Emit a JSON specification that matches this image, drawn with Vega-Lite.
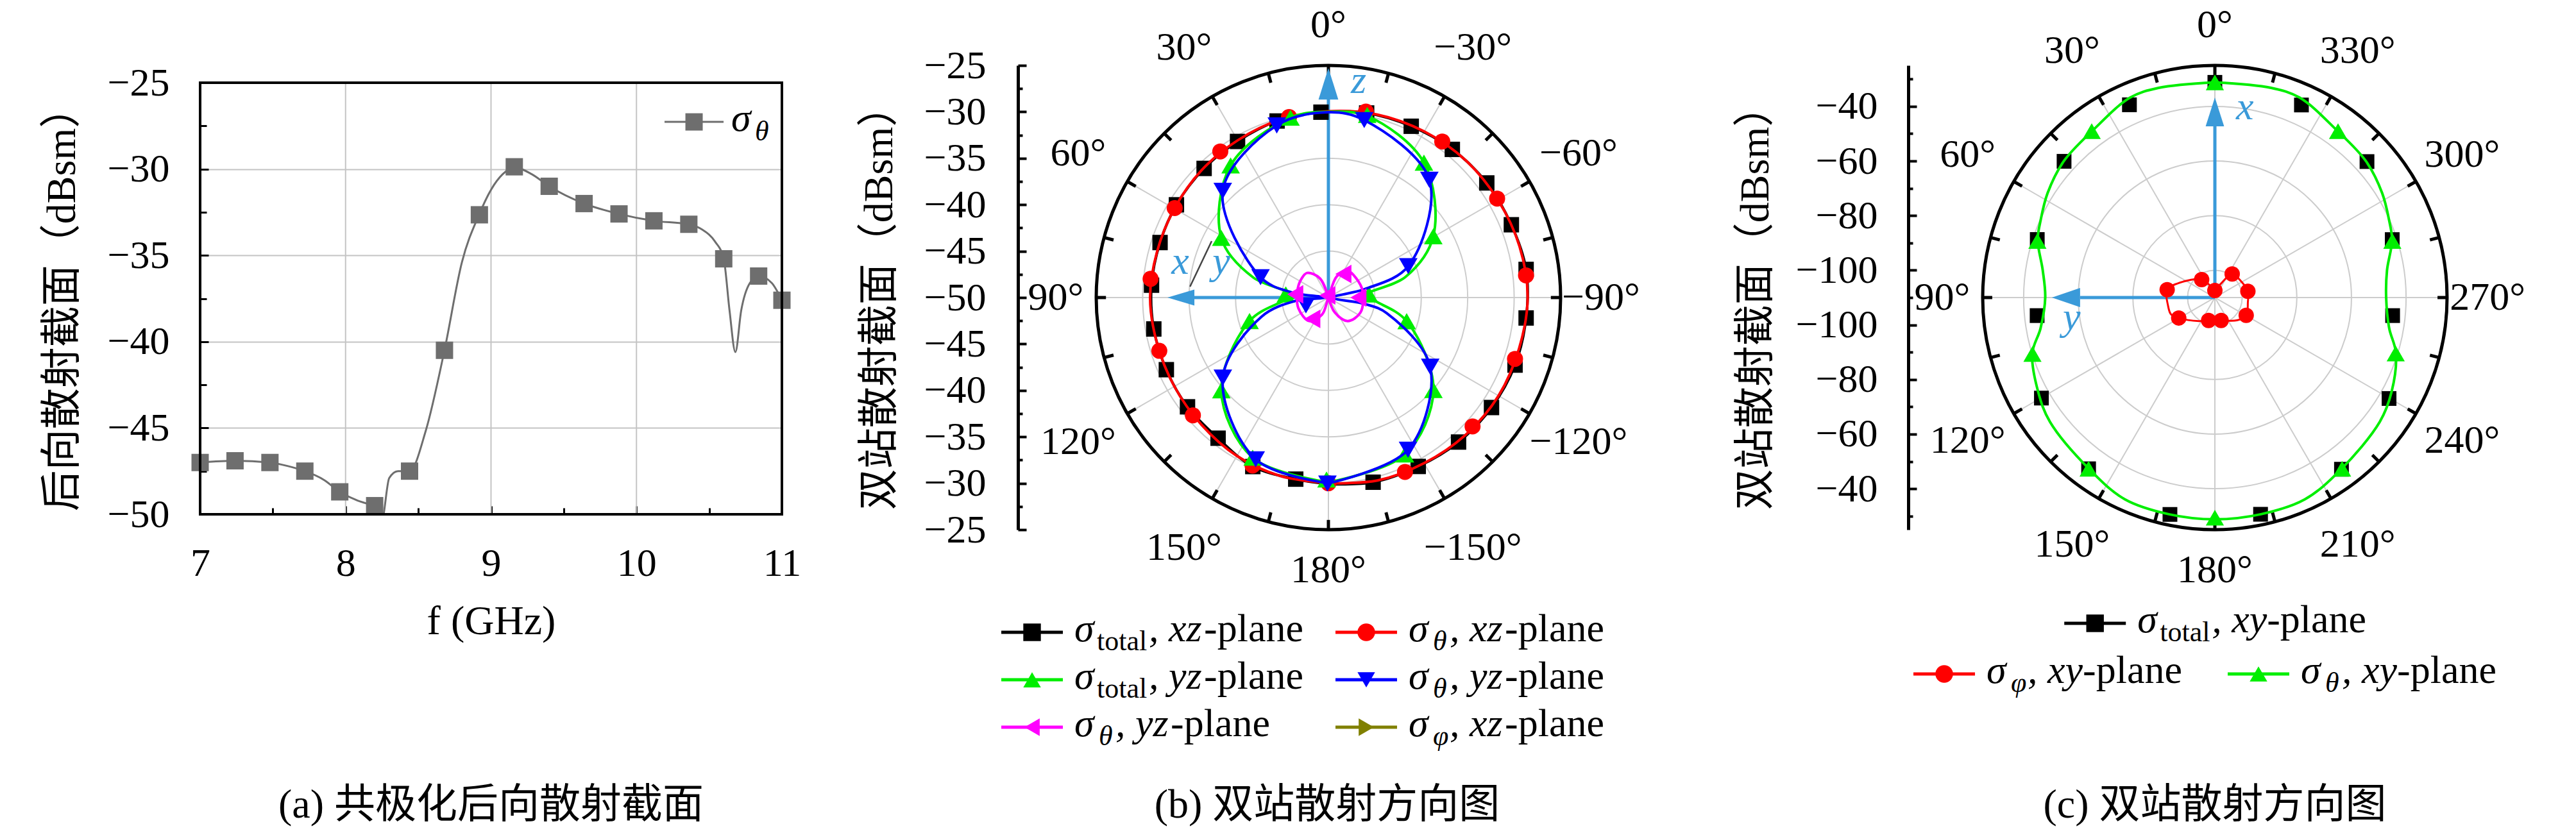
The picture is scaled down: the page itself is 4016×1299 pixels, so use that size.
{
  "$schema": "https://vega.github.io/schema/vega-lite/v6.json",
  "background": "white",
  "padding": {"left": 65, "top": 7, "right": 5, "bottom": 5},
  "config": {
    "font": "Liberation Serif, Noto Sans CJK SC",
    "view": {"stroke": null},
    "axis": {
      "labelFont": "Liberation Serif, Noto Sans CJK SC",
      "titleFont": "Liberation Serif, Noto Sans CJK SC",
      "labelFontSize": 62, "titleFontSize": 64, "titleFontWeight": "normal",
      "labelColor": "#000", "titleColor": "#000", "tickColor": "#000", "domainColor": "#000",
      "labelOverlap": false, "labelFlush": false, "grid": false
    },
    "title": {"font": "Liberation Serif, Noto Sans CJK SC", "fontSize": 64, "fontWeight": "normal", "color": "#000"},
    "text": {"font": "Liberation Serif, Noto Sans CJK SC", "fontSize": 62, "color": "#000"}
  },
  "datasets": {
    "a_pts": [
      {"f": 7, "s": -47.0}, {"f": 7.24, "s": -46.9}, {"f": 7.48, "s": -47.0}, {"f": 7.72, "s": -47.5},
      {"f": 7.96, "s": -48.7}, {"f": 8.2, "s": -49.5}, {"f": 8.44, "s": -47.5}, {"f": 8.68, "s": -40.5},
      {"f": 8.92, "s": -32.65}, {"f": 9.16, "s": -29.87}, {"f": 9.4, "s": -31.0}, {"f": 9.64, "s": -32.0},
      {"f": 9.88, "s": -32.6}, {"f": 10.12, "s": -33.0}, {"f": 10.36, "s": -33.2}, {"f": 10.6, "s": -35.2},
      {"f": 10.84, "s": -36.2}, {"f": 11, "s": -37.6}
    ],
    "a_curve": [
      {"f": 7.0, "s": -47.0}, {"f": 7.24, "s": -46.9}, {"f": 7.48, "s": -47.0}, {"f": 7.6, "s": -47.2},
      {"f": 7.72, "s": -47.5}, {"f": 7.85, "s": -48.0}, {"f": 7.96, "s": -48.7}, {"f": 8.08, "s": -49.2},
      {"f": 8.2, "s": -49.6}, {"f": 8.25, "s": -50.3}, {"f": 8.3, "s": -47.9}, {"f": 8.36, "s": -47.5},
      {"f": 8.44, "s": -47.5}, {"f": 8.55, "s": -45.2}, {"f": 8.68, "s": -40.5}, {"f": 8.8, "s": -35.4},
      {"f": 8.92, "s": -32.6}, {"f": 9.0, "s": -31.2}, {"f": 9.08, "s": -30.3}, {"f": 9.16, "s": -29.9},
      {"f": 9.28, "s": -30.3}, {"f": 9.4, "s": -31.0}, {"f": 9.64, "s": -32.0}, {"f": 9.88, "s": -32.6},
      {"f": 10.12, "s": -33.0}, {"f": 10.36, "s": -33.2}, {"f": 10.45, "s": -33.5}, {"f": 10.54, "s": -34.2},
      {"f": 10.6, "s": -35.2}, {"f": 10.64, "s": -38.2}, {"f": 10.68, "s": -40.6}, {"f": 10.72, "s": -38.2},
      {"f": 10.78, "s": -36.6}, {"f": 10.84, "s": -36.2}, {"f": 10.93, "s": -36.6}, {"f": 11.0, "s": -37.6}
    ],
    "b_data": [
      {"sr": "b_tot_xz", "kind": "l", "a": -180, "v": -29.9},
      {"sr": "b_tot_xz", "kind": "l", "a": -166.4, "v": -29.54},
      {"sr": "b_tot_xz", "kind": "l", "a": -152, "v": -29.4},
      {"sr": "b_tot_xz", "kind": "l", "a": -138, "v": -29.06},
      {"sr": "b_tot_xz", "kind": "l", "a": -124, "v": -28.82},
      {"sr": "b_tot_xz", "kind": "l", "a": -109.9, "v": -28.63},
      {"sr": "b_tot_xz", "kind": "l", "a": -95.9, "v": -28.6},
      {"sr": "b_tot_xz", "kind": "l", "a": -81.9, "v": -28.5},
      {"sr": "b_tot_xz", "kind": "l", "a": -68.3, "v": -28.8},
      {"sr": "b_tot_xz", "kind": "l", "a": -54.1, "v": -28.95},
      {"sr": "b_tot_xz", "kind": "l", "a": -39.9, "v": -29.2},
      {"sr": "b_tot_xz", "kind": "l", "a": -25.8, "v": -29.51},
      {"sr": "b_tot_xz", "kind": "l", "a": -11.7, "v": -29.7},
      {"sr": "b_tot_xz", "kind": "l", "a": 2.3, "v": -30.02},
      {"sr": "b_tot_xz", "kind": "l", "a": 16.2, "v": -30.2},
      {"sr": "b_tot_xz", "kind": "l", "a": 30.2, "v": -30.55},
      {"sr": "b_tot_xz", "kind": "l", "a": 43.9, "v": -30.7},
      {"sr": "b_tot_xz", "kind": "l", "a": 58.6, "v": -30.83},
      {"sr": "b_tot_xz", "kind": "l", "a": 71.9, "v": -30.93},
      {"sr": "b_tot_xz", "kind": "l", "a": 86, "v": -30.91},
      {"sr": "b_tot_xz", "kind": "l", "a": 100.2, "v": -30.9},
      {"sr": "b_tot_xz", "kind": "l", "a": 114, "v": -30.9},
      {"sr": "b_tot_xz", "kind": "l", "a": 127.8, "v": -30.8},
      {"sr": "b_tot_xz", "kind": "l", "a": 141.9, "v": -30.75},
      {"sr": "b_tot_xz", "kind": "l", "a": 155.9, "v": -30.06},
      {"sr": "b_tot_xz", "kind": "l", "a": 169.8, "v": -30.13},
      {"sr": "b_tot_xz", "kind": "l", "a": 180, "v": -29.9},
      {"sr": "b_tot_xz", "kind": "m", "a": -166.4, "v": -29.54},
      {"sr": "b_tot_xz", "kind": "m", "a": -152, "v": -29.4},
      {"sr": "b_tot_xz", "kind": "m", "a": -138, "v": -29.06},
      {"sr": "b_tot_xz", "kind": "m", "a": -124, "v": -28.82},
      {"sr": "b_tot_xz", "kind": "m", "a": -109.9, "v": -28.63},
      {"sr": "b_tot_xz", "kind": "m", "a": -95.9, "v": -28.6},
      {"sr": "b_tot_xz", "kind": "m", "a": -81.9, "v": -28.5},
      {"sr": "b_tot_xz", "kind": "m", "a": -68.3, "v": -28.8},
      {"sr": "b_tot_xz", "kind": "m", "a": -54.1, "v": -28.95},
      {"sr": "b_tot_xz", "kind": "m", "a": -39.9, "v": -29.2},
      {"sr": "b_tot_xz", "kind": "m", "a": -25.8, "v": -29.51},
      {"sr": "b_tot_xz", "kind": "m", "a": -11.7, "v": -29.7},
      {"sr": "b_tot_xz", "kind": "m", "a": 2.3, "v": -30.02},
      {"sr": "b_tot_xz", "kind": "m", "a": 16.2, "v": -30.2},
      {"sr": "b_tot_xz", "kind": "m", "a": 30.2, "v": -30.55},
      {"sr": "b_tot_xz", "kind": "m", "a": 43.9, "v": -30.7},
      {"sr": "b_tot_xz", "kind": "m", "a": 58.6, "v": -30.83},
      {"sr": "b_tot_xz", "kind": "m", "a": 71.9, "v": -30.93},
      {"sr": "b_tot_xz", "kind": "m", "a": 86, "v": -30.91},
      {"sr": "b_tot_xz", "kind": "m", "a": 100.2, "v": -30.9},
      {"sr": "b_tot_xz", "kind": "m", "a": 114, "v": -30.9},
      {"sr": "b_tot_xz", "kind": "m", "a": 127.8, "v": -30.8},
      {"sr": "b_tot_xz", "kind": "m", "a": 141.9, "v": -30.75},
      {"sr": "b_tot_xz", "kind": "m", "a": 155.9, "v": -30.06},
      {"sr": "b_tot_xz", "kind": "m", "a": 169.8, "v": -30.13},
      {"sr": "b_th_xz", "kind": "l", "a": -180, "v": -30.0},
      {"sr": "b_th_xz", "kind": "l", "a": -165, "v": -29.6},
      {"sr": "b_th_xz", "kind": "l", "a": -150, "v": -29.4},
      {"sr": "b_th_xz", "kind": "l", "a": -135, "v": -29.1},
      {"sr": "b_th_xz", "kind": "l", "a": -120, "v": -28.85},
      {"sr": "b_th_xz", "kind": "l", "a": -105, "v": -28.75},
      {"sr": "b_th_xz", "kind": "l", "a": -90, "v": -28.55},
      {"sr": "b_th_xz", "kind": "l", "a": -75, "v": -28.7},
      {"sr": "b_th_xz", "kind": "l", "a": -60, "v": -28.94},
      {"sr": "b_th_xz", "kind": "l", "a": -45, "v": -29.1},
      {"sr": "b_th_xz", "kind": "l", "a": -30, "v": -29.35},
      {"sr": "b_th_xz", "kind": "l", "a": -15, "v": -29.6},
      {"sr": "b_th_xz", "kind": "l", "a": 0, "v": -29.94},
      {"sr": "b_th_xz", "kind": "l", "a": 15, "v": -30.15},
      {"sr": "b_th_xz", "kind": "l", "a": 30, "v": -30.45},
      {"sr": "b_th_xz", "kind": "l", "a": 45, "v": -30.65},
      {"sr": "b_th_xz", "kind": "l", "a": 60, "v": -30.85},
      {"sr": "b_th_xz", "kind": "l", "a": 75, "v": -30.9},
      {"sr": "b_th_xz", "kind": "l", "a": 90, "v": -30.8},
      {"sr": "b_th_xz", "kind": "l", "a": 105, "v": -30.9},
      {"sr": "b_th_xz", "kind": "l", "a": 120, "v": -30.85},
      {"sr": "b_th_xz", "kind": "l", "a": 135, "v": -30.65},
      {"sr": "b_th_xz", "kind": "l", "a": 150, "v": -30.3},
      {"sr": "b_th_xz", "kind": "l", "a": 165, "v": -30.1},
      {"sr": "b_th_xz", "kind": "l", "a": 180, "v": -30.0},
      {"sr": "b_th_xz", "kind": "m", "a": -11.4, "v": -29.57},
      {"sr": "b_th_xz", "kind": "m", "a": -36.1, "v": -29.2},
      {"sr": "b_th_xz", "kind": "m", "a": -59.6, "v": -28.94},
      {"sr": "b_th_xz", "kind": "m", "a": -83.6, "v": -28.59},
      {"sr": "b_th_xz", "kind": "m", "a": -108.2, "v": -28.85},
      {"sr": "b_th_xz", "kind": "m", "a": -131.8, "v": -29.18},
      {"sr": "b_th_xz", "kind": "m", "a": -156.3, "v": -29.49},
      {"sr": "b_th_xz", "kind": "m", "a": 180, "v": -30.0},
      {"sr": "b_th_xz", "kind": "m", "a": 155.7, "v": -30.15},
      {"sr": "b_th_xz", "kind": "m", "a": 131, "v": -30.67},
      {"sr": "b_th_xz", "kind": "m", "a": 107.5, "v": -30.91},
      {"sr": "b_th_xz", "kind": "m", "a": 84, "v": -30.75},
      {"sr": "b_th_xz", "kind": "m", "a": 59.8, "v": -30.85},
      {"sr": "b_th_xz", "kind": "m", "a": 36.5, "v": -30.43},
      {"sr": "b_th_xz", "kind": "m", "a": 12.3, "v": -30.1},
      {"sr": "b_tot_yz", "kind": "l", "a": -180, "v": -30.1},
      {"sr": "b_tot_yz", "kind": "l", "a": -154, "v": -31.2},
      {"sr": "b_tot_yz", "kind": "l", "a": -131.4, "v": -34.93},
      {"sr": "b_tot_yz", "kind": "l", "a": -106.8, "v": -41.2},
      {"sr": "b_tot_yz", "kind": "l", "a": -95, "v": -44.8},
      {"sr": "b_tot_yz", "kind": "l", "a": -87, "v": -46.1},
      {"sr": "b_tot_yz", "kind": "l", "a": -75, "v": -41.4},
      {"sr": "b_tot_yz", "kind": "l", "a": -59.7, "v": -36.92},
      {"sr": "b_tot_yz", "kind": "l", "a": -35.3, "v": -32.2},
      {"sr": "b_tot_yz", "kind": "l", "a": -12, "v": -30.0},
      {"sr": "b_tot_yz", "kind": "l", "a": 0, "v": -30.0},
      {"sr": "b_tot_yz", "kind": "l", "a": 11.9, "v": -30.2},
      {"sr": "b_tot_yz", "kind": "l", "a": 36.5, "v": -32.3},
      {"sr": "b_tot_yz", "kind": "l", "a": 60.9, "v": -36.8},
      {"sr": "b_tot_yz", "kind": "l", "a": 75, "v": -41.6},
      {"sr": "b_tot_yz", "kind": "l", "a": 87, "v": -46.4},
      {"sr": "b_tot_yz", "kind": "l", "a": 95, "v": -45.0},
      {"sr": "b_tot_yz", "kind": "l", "a": 106.6, "v": -41.14},
      {"sr": "b_tot_yz", "kind": "l", "a": 130.9, "v": -34.75},
      {"sr": "b_tot_yz", "kind": "l", "a": 154.7, "v": -30.92},
      {"sr": "b_tot_yz", "kind": "l", "a": 180, "v": -30.1},
      {"sr": "b_tot_yz", "kind": "m", "a": 11.9, "v": -30.2},
      {"sr": "b_tot_yz", "kind": "m", "a": -12, "v": -29.9},
      {"sr": "b_tot_yz", "kind": "m", "a": -35.3, "v": -32.2},
      {"sr": "b_tot_yz", "kind": "m", "a": -59.7, "v": -36.92},
      {"sr": "b_tot_yz", "kind": "m", "a": -85.6, "v": -45.62},
      {"sr": "b_tot_yz", "kind": "m", "a": -106.8, "v": -41.2},
      {"sr": "b_tot_yz", "kind": "m", "a": -131.4, "v": -34.93},
      {"sr": "b_tot_yz", "kind": "m", "a": -154, "v": -31.2},
      {"sr": "b_tot_yz", "kind": "m", "a": 179.4, "v": -30.4},
      {"sr": "b_tot_yz", "kind": "m", "a": 154.7, "v": -30.92},
      {"sr": "b_tot_yz", "kind": "m", "a": 130.9, "v": -34.75},
      {"sr": "b_tot_yz", "kind": "m", "a": 106.6, "v": -41.14},
      {"sr": "b_tot_yz", "kind": "m", "a": 85.8, "v": -45.4},
      {"sr": "b_tot_yz", "kind": "m", "a": 60.9, "v": -36.8},
      {"sr": "b_tot_yz", "kind": "m", "a": 36.5, "v": -32.3},
      {"sr": "b_th_yz", "kind": "l", "a": -180, "v": -30.0},
      {"sr": "b_th_yz", "kind": "l", "a": -152.4, "v": -31.5},
      {"sr": "b_th_yz", "kind": "l", "a": -124.2, "v": -36.75},
      {"sr": "b_th_yz", "kind": "l", "a": -105, "v": -43.5},
      {"sr": "b_th_yz", "kind": "l", "a": -100, "v": -46.0},
      {"sr": "b_th_yz", "kind": "l", "a": -90, "v": -49.5},
      {"sr": "b_th_yz", "kind": "l", "a": -77, "v": -46.0},
      {"sr": "b_th_yz", "kind": "l", "a": -68.5, "v": -40.76},
      {"sr": "b_th_yz", "kind": "l", "a": -40.6, "v": -33.3},
      {"sr": "b_th_yz", "kind": "l", "a": -11.4, "v": -30.5},
      {"sr": "b_th_yz", "kind": "l", "a": 0, "v": -30.05},
      {"sr": "b_th_yz", "kind": "l", "a": 16.7, "v": -30.65},
      {"sr": "b_th_yz", "kind": "l", "a": 44.7, "v": -33.83},
      {"sr": "b_th_yz", "kind": "l", "a": 73.3, "v": -42.37},
      {"sr": "b_th_yz", "kind": "l", "a": 82, "v": -46.0},
      {"sr": "b_th_yz", "kind": "l", "a": 90, "v": -49.5},
      {"sr": "b_th_yz", "kind": "l", "a": 96, "v": -46.4},
      {"sr": "b_th_yz", "kind": "l", "a": 106, "v": -42.5},
      {"sr": "b_th_yz", "kind": "l", "a": 127.2, "v": -35.73},
      {"sr": "b_th_yz", "kind": "l", "a": 155.8, "v": -30.9},
      {"sr": "b_th_yz", "kind": "l", "a": 180, "v": -30.0},
      {"sr": "b_th_yz", "kind": "m", "a": 16.7, "v": -30.65},
      {"sr": "b_th_yz", "kind": "m", "a": -11.4, "v": -30.5},
      {"sr": "b_th_yz", "kind": "m", "a": -40.6, "v": -33.3},
      {"sr": "b_th_yz", "kind": "m", "a": -68.5, "v": -40.76},
      {"sr": "b_th_yz", "kind": "m", "a": -124.2, "v": -36.75},
      {"sr": "b_th_yz", "kind": "m", "a": -152.4, "v": -31.5},
      {"sr": "b_th_yz", "kind": "m", "a": 179.7, "v": -29.97},
      {"sr": "b_th_yz", "kind": "m", "a": 155.8, "v": -30.9},
      {"sr": "b_th_yz", "kind": "m", "a": 127.2, "v": -35.73},
      {"sr": "b_th_yz", "kind": "m", "a": 109, "v": -47.44},
      {"sr": "b_th_yz", "kind": "m", "a": 73.3, "v": -42.37},
      {"sr": "b_th_yz", "kind": "m", "a": 44.7, "v": -33.83},
      {"sr": "b_th_yz2", "kind": "l", "k": 0, "a": 0, "v": -50},
      {"sr": "b_th_yz2", "kind": "l", "k": 1, "a": 24, "v": -47.73},
      {"sr": "b_th_yz2", "kind": "l", "k": 2, "a": 41, "v": -46.49},
      {"sr": "b_th_yz2", "kind": "l", "k": 3, "a": 58.4, "v": -46.48},
      {"sr": "b_th_yz2", "kind": "l", "k": 4, "a": 78.3, "v": -46.59},
      {"sr": "b_th_yz2", "kind": "l", "k": 5, "a": 109.7, "v": -46.57},
      {"sr": "b_th_yz2", "kind": "l", "k": 6, "a": 140.7, "v": -46.73},
      {"sr": "b_th_yz2", "kind": "l", "k": 7, "a": 159.4, "v": -48.03},
      {"sr": "b_th_yz2", "kind": "l", "k": 8, "a": 0, "v": -50},
      {"sr": "b_th_yz2", "kind": "l", "k": 9, "a": -21.8, "v": -47.52},
      {"sr": "b_th_yz2", "kind": "l", "k": 10, "a": -35.8, "v": -46.45},
      {"sr": "b_th_yz2", "kind": "l", "k": 11, "a": -55.3, "v": -46.36},
      {"sr": "b_th_yz2", "kind": "l", "k": 12, "a": -79.4, "v": -46.25},
      {"sr": "b_th_yz2", "kind": "l", "k": 13, "a": -115, "v": -46.19},
      {"sr": "b_th_yz2", "kind": "l", "k": 14, "a": -140.7, "v": -46.73},
      {"sr": "b_th_yz2", "kind": "l", "k": 15, "a": -156.8, "v": -48.25},
      {"sr": "b_th_yz2", "kind": "l", "k": 16, "a": 0, "v": -50},
      {"sr": "b_th_yz2", "kind": "m", "a": 84.5, "v": -46.41},
      {"sr": "b_th_yz2", "kind": "m", "a": 26.6, "v": -49.74},
      {"sr": "b_th_yz2", "kind": "m", "a": -32.5, "v": -47.0},
      {"sr": "b_th_yz2", "kind": "m", "a": -90, "v": -46.77},
      {"sr": "b_th_yz2", "kind": "m", "a": 143, "v": -47.12}
    ],
    "c_data": [
      {"sr": "c_tot_xy", "kind": "m", "a": 0, "v": -31.2},
      {"sr": "c_tot_xy", "kind": "m", "a": 23.9, "v": -32.8},
      {"sr": "c_tot_xy", "kind": "m", "a": 47.9, "v": -35.6},
      {"sr": "c_tot_xy", "kind": "m", "a": 71.9, "v": -41.6},
      {"sr": "c_tot_xy", "kind": "m", "a": 95.8, "v": -44.6},
      {"sr": "c_tot_xy", "kind": "m", "a": 120.1, "v": -36.6},
      {"sr": "c_tot_xy", "kind": "m", "a": 143.6, "v": -32.1},
      {"sr": "c_tot_xy", "kind": "m", "a": 168.3, "v": -28.9},
      {"sr": "c_tot_xy", "kind": "m", "a": 191.9, "v": -28.9},
      {"sr": "c_tot_xy", "kind": "m", "a": 216.4, "v": -31.9},
      {"sr": "c_tot_xy", "kind": "m", "a": 239.9, "v": -36.3},
      {"sr": "c_tot_xy", "kind": "m", "a": 264.2, "v": -44.6},
      {"sr": "c_tot_xy", "kind": "m", "a": 288.1, "v": -41.7},
      {"sr": "c_tot_xy", "kind": "m", "a": 311.8, "v": -35.3},
      {"sr": "c_tot_xy", "kind": "m", "a": 335.8, "v": -32.7},
      {"sr": "c_th_xy", "kind": "l", "a": 0, "v": -31.2},
      {"sr": "c_th_xy", "kind": "l", "a": 15, "v": -30.5},
      {"sr": "c_th_xy", "kind": "l", "a": 23, "v": -30.5},
      {"sr": "c_th_xy", "kind": "l", "a": 36, "v": -34.2},
      {"sr": "c_th_xy", "kind": "l", "a": 48, "v": -35.5},
      {"sr": "c_th_xy", "kind": "l", "a": 58, "v": -37.8},
      {"sr": "c_th_xy", "kind": "l", "a": 66, "v": -40.2},
      {"sr": "c_th_xy", "kind": "l", "a": 72, "v": -41.8},
      {"sr": "c_th_xy", "kind": "l", "a": 81, "v": -46.2},
      {"sr": "c_th_xy", "kind": "l", "a": 90, "v": -47.9},
      {"sr": "c_th_xy", "kind": "l", "a": 100, "v": -45.2},
      {"sr": "c_th_xy", "kind": "l", "a": 107, "v": -40.1},
      {"sr": "c_th_xy", "kind": "l", "a": 118, "v": -36.7},
      {"sr": "c_th_xy", "kind": "l", "a": 127, "v": -34.4},
      {"sr": "c_th_xy", "kind": "l", "a": 144, "v": -32.1},
      {"sr": "c_th_xy", "kind": "l", "a": 156, "v": -29.1},
      {"sr": "c_th_xy", "kind": "l", "a": 168, "v": -28.9},
      {"sr": "c_th_xy", "kind": "l", "a": 180, "v": -28.8},
      {"sr": "c_th_xy", "kind": "l", "a": 192, "v": -28.9},
      {"sr": "c_th_xy", "kind": "l", "a": 204, "v": -29.1},
      {"sr": "c_th_xy", "kind": "l", "a": 216, "v": -31.9},
      {"sr": "c_th_xy", "kind": "l", "a": 233, "v": -34.4},
      {"sr": "c_th_xy", "kind": "l", "a": 242, "v": -36.7},
      {"sr": "c_th_xy", "kind": "l", "a": 253, "v": -40.7},
      {"sr": "c_th_xy", "kind": "l", "a": 260, "v": -45.2},
      {"sr": "c_th_xy", "kind": "l", "a": 270, "v": -47.3},
      {"sr": "c_th_xy", "kind": "l", "a": 279, "v": -46.2},
      {"sr": "c_th_xy", "kind": "l", "a": 288, "v": -41.8},
      {"sr": "c_th_xy", "kind": "l", "a": 294, "v": -40.2},
      {"sr": "c_th_xy", "kind": "l", "a": 302, "v": -37.8},
      {"sr": "c_th_xy", "kind": "l", "a": 312, "v": -35.5},
      {"sr": "c_th_xy", "kind": "l", "a": 324, "v": -34.2},
      {"sr": "c_th_xy", "kind": "l", "a": 337, "v": -30.5},
      {"sr": "c_th_xy", "kind": "l", "a": 345, "v": -30.5},
      {"sr": "c_th_xy", "kind": "l", "a": 360, "v": -31.2},
      {"sr": "c_th_xy", "kind": "m", "a": 0, "v": -31.2},
      {"sr": "c_th_xy", "kind": "m", "a": 36.5, "v": -34.2},
      {"sr": "c_th_xy", "kind": "m", "a": 72.3, "v": -41.8},
      {"sr": "c_th_xy", "kind": "m", "a": 107.2, "v": -40.1},
      {"sr": "c_th_xy", "kind": "m", "a": 143.6, "v": -32.1},
      {"sr": "c_th_xy", "kind": "m", "a": 180, "v": -29.4},
      {"sr": "c_th_xy", "kind": "m", "a": 216.6, "v": -31.9},
      {"sr": "c_th_xy", "kind": "m", "a": 252.8, "v": -40.7},
      {"sr": "c_th_xy", "kind": "m", "a": 287.7, "v": -41.8},
      {"sr": "c_th_xy", "kind": "m", "a": 323.5, "v": -34.2},
      {"sr": "c_ph_xy", "kind": "l", "a": 0, "v": -107.4},
      {"sr": "c_ph_xy", "kind": "l", "a": 36.4, "v": -101.85},
      {"sr": "c_ph_xy", "kind": "l", "a": 63, "v": -97.1},
      {"sr": "c_ph_xy", "kind": "l", "a": 80.7, "v": -92.3},
      {"sr": "c_ph_xy", "kind": "l", "a": 100, "v": -92.6},
      {"sr": "c_ph_xy", "kind": "l", "a": 111, "v": -92.8},
      {"sr": "c_ph_xy", "kind": "l", "a": 119.5, "v": -94.8},
      {"sr": "c_ph_xy", "kind": "l", "a": 146, "v": -99.6},
      {"sr": "c_ph_xy", "kind": "l", "a": 164.7, "v": -101.3},
      {"sr": "c_ph_xy", "kind": "l", "a": 195.3, "v": -101.3},
      {"sr": "c_ph_xy", "kind": "l", "a": 224, "v": -98.4},
      {"sr": "c_ph_xy", "kind": "l", "a": 240.3, "v": -96.8},
      {"sr": "c_ph_xy", "kind": "l", "a": 262, "v": -97.8},
      {"sr": "c_ph_xy", "kind": "l", "a": 280.8, "v": -97.7},
      {"sr": "c_ph_xy", "kind": "l", "a": 300.5, "v": -98.65},
      {"sr": "c_ph_xy", "kind": "l", "a": 323.7, "v": -99.3},
      {"sr": "c_ph_xy", "kind": "l", "a": 336, "v": -104.3},
      {"sr": "c_ph_xy", "kind": "l", "a": 360, "v": -107.4},
      {"sr": "c_ph_xy", "kind": "m", "a": 0, "v": -107.4},
      {"sr": "c_ph_xy", "kind": "m", "a": 36.4, "v": -101.85},
      {"sr": "c_ph_xy", "kind": "m", "a": 80.7, "v": -92.3},
      {"sr": "c_ph_xy", "kind": "m", "a": 119.5, "v": -94.8},
      {"sr": "c_ph_xy", "kind": "m", "a": 164.7, "v": -101.3},
      {"sr": "c_ph_xy", "kind": "m", "a": 195.3, "v": -101.3},
      {"sr": "c_ph_xy", "kind": "m", "a": 240.3, "v": -96.8},
      {"sr": "c_ph_xy", "kind": "m", "a": 280.8, "v": -97.7},
      {"sr": "c_ph_xy", "kind": "m", "a": 323.7, "v": -99.3}
    ],
    "ticks15": [
      {"a": 0}, {"a": 15}, {"a": 30}, {"a": 45}, {"a": 60}, {"a": 75}, {"a": 90}, {"a": 105},
      {"a": 120}, {"a": 135}, {"a": 150}, {"a": 165}, {"a": 180}, {"a": 195}, {"a": 210}, {"a": 225},
      {"a": 240}, {"a": 255}, {"a": 270}, {"a": 285}, {"a": 300}, {"a": 315}, {"a": 330}, {"a": 345}
    ],
    "spokes": [{"a": 0}, {"a": 30}, {"a": 60}, {"a": 90}, {"a": 120}, {"a": 150}],
    "b_legend": [
      {"s": "b_tot_xz", "c": 0, "r": 1, "sub": "total", "pl": ", xz"},
      {"s": "b_th_xz", "c": 1, "r": 1, "sub": "θ", "pl": ", xz"},
      {"s": "b_tot_yz", "c": 0, "r": 2, "sub": "total", "pl": ", yz"},
      {"s": "b_th_yz", "c": 1, "r": 2, "sub": "θ", "pl": ", yz"},
      {"s": "b_th_yz2", "c": 0, "r": 3, "sub": "θ", "pl": ", yz"},
      {"s": "b_ph_xz", "c": 1, "r": 3, "sub": "φ", "pl": ", xz"}
    ],
    "c_legend": [
      {"s": "c_tot_xy", "c": 0.48, "r": 1, "sub": "total", "pl": ", xy"},
      {"s": "c_ph_xy", "c": 0, "r": 2, "sub": "φ", "pl": ", xy"},
      {"s": "c_th_xy", "c": 1, "r": 2, "sub": "θ", "pl": ", xy"}
    ]
  },
  "columns": 3,
  "bounds": "flush",
  "spacing": {"row": 100, "column": 490},
  "resolve": {"scale": {"radius": "independent"}},
  "concat": [
    {
      "width": 907,
      "height": 700,
      "resolve": {"axis": {"x": "independent", "y": "independent"}},
      "layer": [
        {
          "data": {"values": [{"g": 8}, {"g": 9}, {"g": 10}]},
          "mark": {"type": "rule", "color": "#c4c4c4", "strokeWidth": 2},
          "encoding": {
            "x": {"field": "g", "type": "quantitative", "scale": {"domain": [7, 11], "nice": false, "zero": false}, "axis": null},
            "y": {"datum": -50, "type": "quantitative", "scale": {"domain": [-50, -23.997], "nice": false, "zero": false}, "axis": null},
            "y2": {"datum": -25}
          }
        },
        {
          "data": {"name": "a_curve"},
          "mark": {"type": "line", "interpolate": "monotone", "color": "#6e6e6e", "strokeWidth": 3, "clip": true},
          "encoding": {
            "x": {"field": "f", "type": "quantitative", "scale": {"domain": [7, 11], "nice": false, "zero": false},
              "axis": {"orient": "bottom", "values": [7, 8, 9, 10, 11], "format": "d", "domain": false, "tickSize": -13, "tickWidth": 3,
                "labelPadding": 59, "title": "f (GHz)", "titlePadding": 28}},
            "y": {"field": "s", "type": "quantitative", "scale": {"domain": [-50, -23.997], "nice": false, "zero": false},
              "axis": {"orient": "left", "values": [-50, -45, -40, -35, -30, -25], "domain": false, "grid": true, "gridColor": "#c4c4c4", "gridWidth": 2,
                "tickSize": -13, "tickWidth": 3, "labelPadding": 61, "labelExpr": "'−' + format(abs(datum.value), 'd')",
                "title": "后向散射截面（dBsm）", "titleX": -215, "titleY": 364, "titleAngle": 270, "titleAlign": "center", "titleBaseline": "middle"}}
          }
        },
        {
          "data": {"name": "a_pts"},
          "mark": {"type": "point", "shape": "square", "filled": true, "opacity": 1, "size": 729, "color": "#6e6e6e"},
          "encoding": {
            "x": {"field": "f", "type": "quantitative", "scale": {"domain": [7, 11], "nice": false, "zero": false},
              "axis": {"orient": "bottom", "values": [7.5, 8.5, 9.5, 10.5], "domain": false, "tickSize": -10, "tickWidth": 3, "labels": false, "title": null}},
            "y": {"field": "s", "type": "quantitative", "scale": {"domain": [-50, -23.997], "nice": false, "zero": false},
              "axis": {"orient": "left", "values": [-47.5, -42.5, -37.5, -32.5, -27.5], "domain": false, "tickSize": -10, "tickWidth": 3, "labels": false, "title": null}}
          }
        },
        {
          "data": {"values": [{}]},
          "mark": {"type": "rect", "filled": false, "stroke": "#000", "strokeWidth": 4},
          "encoding": {
            "x": {"datum": 7, "type": "quantitative", "axis": null},
            "x2": {"datum": 11},
            "y": {"datum": -50, "type": "quantitative", "axis": null},
            "y2": {"datum": -25}
          }
        },
        {
          "data": {"values": [{}]},
          "mark": {"type": "rule", "color": "#6e6e6e", "strokeWidth": 3},
          "encoding": {
            "x": {"datum": 10.193, "type": "quantitative", "axis": null},
            "x2": {"datum": 10.599},
            "y": {"datum": -27.27, "type": "quantitative", "axis": null}
          }
        },
        {
          "data": {"values": [{}]},
          "mark": {"type": "point", "shape": "square", "filled": true, "opacity": 1, "size": 729, "color": "#6e6e6e"},
          "encoding": {
            "x": {"datum": 10.396, "type": "quantitative", "axis": null},
            "y": {"datum": -27.27, "type": "quantitative", "axis": null}
          }
        },
        {
          "data": {"values": [{}]},
          "mark": {"type": "text", "text": "σ", "align": "left", "baseline": "alphabetic", "dy": 14, "fontStyle": "italic", "fontSize": 62},
          "encoding": {
            "x": {"datum": 10.652, "type": "quantitative", "axis": null},
            "y": {"datum": -27.27, "type": "quantitative", "axis": null}
          }
        },
        {
          "data": {"values": [{}]},
          "mark": {"type": "text", "text": "θ", "align": "left", "baseline": "alphabetic", "dy": 29, "fontStyle": "italic", "fontSize": 44},
          "encoding": {
            "x": {"datum": 10.815, "type": "quantitative", "axis": null},
            "y": {"datum": -27.27, "type": "quantitative", "axis": null}
          }
        }
      ]
    },
    {
      "width": 892,
      "height": 724,
      "resolve": {"axis": {"y": "independent"}},
      "layer": [
        {
          "data": {"values": [{"r": 5}, {"r": 10}, {"r": 15}, {"r": 20}]},
          "mark": {"type": "arc", "theta": 0, "theta2": 6.2832, "filled": false, "stroke": "#cccccc", "strokeWidth": 2},
          "encoding": {
            "x": {"datum": 0, "type": "quantitative", "scale": {"domain": [-25, 36.602], "nice": false, "zero": false}, "axis": null},
            "y": {"datum": 0, "type": "quantitative", "scale": {"domain": [-25, 25], "nice": false, "zero": false}, "axis": null},
            "radius": {"field": "r", "type": "quantitative", "stack": false, "scale": {"type": "linear", "domain": [0, 25], "range": [0, 362], "zero": true, "nice": false}}
          }
        },
        {
          "data": {"name": "spokes"},
          "transform": [
            {"calculate": "-25*sin(datum.a*PI/180)", "as": "sx"},
            {"calculate": "25*cos(datum.a*PI/180)", "as": "sy"},
            {"calculate": "-datum.sx", "as": "ex"},
            {"calculate": "-datum.sy", "as": "ey"}
          ],
          "mark": {"type": "rule", "color": "#cccccc", "strokeWidth": 2},
          "encoding": {
            "x": {"field": "sx", "type": "quantitative", "axis": null},
            "y": {"field": "sy", "type": "quantitative",
              "axis": {"orient": "left", "offset": 122, "values": [-22.5, -17.5, -12.5, -7.5, -2.5, 2.5, 7.5, 12.5, 17.5, 22.5],
                "domain": false, "tickSize": -7, "tickWidth": 4, "labels": false, "title": null}},
            "x2": {"field": "ex"},
            "y2": {"field": "ey"}
          }
        },
        {
          "data": {"values": [{"r": 25}]},
          "mark": {"type": "arc", "theta": 0, "theta2": 6.2832, "filled": false, "stroke": "#000", "strokeWidth": 5},
          "encoding": {
            "x": {"datum": 0, "type": "quantitative", "axis": null},
            "y": {"datum": 0, "type": "quantitative", "axis": null},
            "radius": {"field": "r", "type": "quantitative", "stack": false, "scale": {"type": "linear", "domain": [0, 25], "range": [0, 362], "zero": true, "nice": false}}
          }
        },
        {
          "data": {"name": "ticks15"},
          "transform": [
            {"calculate": "-25*sin(datum.a*PI/180)", "as": "tx"},
            {"calculate": "25*cos(datum.a*PI/180)", "as": "ty"},
            {"calculate": "-23.95*sin(datum.a*PI/180)", "as": "tx2"},
            {"calculate": "23.95*cos(datum.a*PI/180)", "as": "ty2"}
          ],
          "mark": {"type": "rule", "color": "#000", "strokeWidth": 5},
          "encoding": {
            "x": {"field": "tx", "type": "quantitative", "axis": null},
            "y": {"field": "ty", "type": "quantitative",
              "axis": {"orient": "left", "offset": 122, "values": [-25, -20, -15, -10, -5, 0, 5, 10, 15, 20, 25],
                "labelExpr": "'−' + format(50 - abs(datum.value), 'd')", "domain": true, "domainWidth": 5,
                "tickSize": -13, "tickWidth": 4, "labelPadding": 63, "title": "双站散射截面（dBsm）", "titlePadding": 37}},
            "x2": {"field": "tx2"},
            "y2": {"field": "ty2"}
          }
        },
        {
          "data": {"values": [{}]},
          "mark": {"type": "rule", "color": "#3a9ad9", "strokeWidth": 5},
          "encoding": {
            "x": {"datum": 0, "type": "quantitative", "axis": null},
            "y": {"datum": 0, "type": "quantitative", "axis": null},
            "y2": {"datum": 21.4}
          }
        },
        {
          "data": {"values": [{}]},
          "mark": {"type": "rule", "color": "#3a9ad9", "strokeWidth": 5},
          "encoding": {
            "x": {"datum": 0, "type": "quantitative", "axis": null},
            "x2": {"datum": -14.5},
            "y": {"datum": 0, "type": "quantitative", "axis": null}
          }
        },
        {
          "data": {"values": [{}]},
          "mark": {"type": "point", "shape": "M0,-1L0.63,1L-0.63,1Z", "size": 2401, "filled": true, "opacity": 1, "color": "#3a9ad9"},
          "encoding": {
            "x": {"datum": 0, "type": "quantitative", "axis": null},
            "y": {"datum": 23.01, "type": "quantitative", "axis": null}
          }
        },
        {
          "data": {"values": [{}]},
          "mark": {"type": "point", "shape": "M-1,0L1,-0.6L1,0.6Z", "size": 1764, "filled": true, "opacity": 1, "color": "#3a9ad9"},
          "encoding": {
            "x": {"datum": -15.88, "type": "quantitative", "axis": null},
            "y": {"datum": 0, "type": "quantitative", "axis": null}
          }
        },
        {
          "data": {"name": "b_data"},
          "transform": [
            {"calculate": "max(datum.v + 50, 0)", "as": "rr"},
            {"calculate": "-datum.rr*sin(datum.a*PI/180)", "as": "px"},
            {"calculate": "datum.rr*cos(datum.a*PI/180)", "as": "py"}
          ],
          "encoding": {
            "x": {"field": "px", "type": "quantitative", "axis": null},
            "y": {"field": "py", "type": "quantitative", "axis": null},
            "color": {"field": "sr", "type": "nominal", "legend": null,
              "scale": {"domain": ["a", "b_tot_xz", "b_th_xz", "b_tot_yz", "b_th_yz", "b_th_yz2", "b_ph_xz", "c_tot_xy", "c_ph_xy", "c_th_xy"],
                "range": ["#6e6e6e", "#000000", "#ff0000", "#00ee00", "#0000ff", "#ff00ff", "#808000", "#000000", "#ff0000", "#00ee00"]}}
          },
          "layer": [
            {"transform": [{"filter": "datum.sr == 'b_tot_xz' && datum.kind == 'l'"}],
              "mark": {"type": "line", "interpolate": "catmull-rom", "strokeWidth": 4},
              "encoding": {"order": {"field": "a", "type": "quantitative"}}},
            {"transform": [{"filter": "datum.sr == 'b_tot_xz' && datum.kind == 'm'"}],
              "mark": {"type": "point", "shape": "square", "filled": true, "opacity": 1, "size": 576}},
            {"transform": [{"filter": "datum.sr == 'b_th_xz' && datum.kind == 'l'"}],
              "mark": {"type": "line", "interpolate": "catmull-rom", "strokeWidth": 4},
              "encoding": {"order": {"field": "a", "type": "quantitative"}}},
            {"transform": [{"filter": "datum.sr == 'b_th_xz' && datum.kind == 'm'"}],
              "mark": {"type": "point", "shape": "circle", "filled": true, "opacity": 1, "size": 625}},
            {"transform": [{"filter": "datum.sr == 'b_tot_yz' && datum.kind == 'l'"}],
              "mark": {"type": "line", "interpolate": "catmull-rom", "strokeWidth": 4},
              "encoding": {"order": {"field": "a", "type": "quantitative"}}},
            {"transform": [{"filter": "datum.sr == 'b_tot_yz' && datum.kind == 'm'"}],
              "mark": {"type": "point", "shape": "triangle-up", "filled": true, "opacity": 1, "size": 841}},
            {"transform": [{"filter": "datum.sr == 'b_th_yz' && datum.kind == 'l'"}],
              "mark": {"type": "line", "interpolate": "catmull-rom", "strokeWidth": 4},
              "encoding": {"order": {"field": "a", "type": "quantitative"}}},
            {"transform": [{"filter": "datum.sr == 'b_th_yz' && datum.kind == 'm'"}],
              "mark": {"type": "point", "shape": "triangle-down", "filled": true, "opacity": 1, "size": 841}},
            {"transform": [{"filter": "datum.sr == 'b_th_yz2' && datum.kind == 'l'"}],
              "mark": {"type": "line", "interpolate": "catmull-rom", "strokeWidth": 4},
              "encoding": {"order": {"field": "k", "type": "quantitative"}}},
            {"transform": [{"filter": "datum.sr == 'b_th_yz2' && datum.kind == 'm'"}],
              "mark": {"type": "point", "shape": "triangle-left", "filled": true, "opacity": 1, "size": 841}}
          ]
        },
        {
          "data": {"values": [
            {"a": 0, "t": "0°"}, {"a": 30, "t": "30°"}, {"a": 60, "t": "60°"}, {"a": 90, "t": "90°"},
            {"a": 120, "t": "120°"}, {"a": 150, "t": "150°"}, {"a": 180, "t": "180°"},
            {"a": -30, "t": "−30°"}, {"a": -60, "t": "−60°"}, {"a": -90, "t": "−90°"},
            {"a": -120, "t": "−120°"}, {"a": -150, "t": "−150°"}
          ]},
          "encoding": {
            "x": {"field": "lx", "type": "quantitative", "axis": null},
            "y": {"field": "ly", "type": "quantitative", "axis": null},
            "text": {"field": "t"}
          },
          "layer": [
            {"transform": [{"filter": "datum.a % 90 == 0"},
                {"calculate": "-29.35*sin(datum.a*PI/180)", "as": "lx"},
                {"calculate": "29.35*cos(datum.a*PI/180)", "as": "ly"}],
              "mark": {"type": "text", "align": "center", "baseline": "middle", "fontSize": 62}},
            {"transform": [{"filter": "datum.a % 90 != 0"},
                {"calculate": "-31.1*sin(datum.a*PI/180)", "as": "lx"},
                {"calculate": "31.1*cos(datum.a*PI/180)", "as": "ly"}],
              "mark": {"type": "text", "align": "center", "baseline": "middle", "fontSize": 62}}
          ]
        },
        {
          "data": {"values": [{}]},
          "mark": {"type": "text", "text": "z", "align": "center", "baseline": "alphabetic", "fontStyle": "italic", "fontSize": 62, "color": "#3a9ad9"},
          "encoding": {
            "x": {"datum": 3.25, "type": "quantitative", "axis": null},
            "y": {"datum": 22.03, "type": "quantitative", "axis": null}
          }
        },
        {
          "data": {"values": [{}]},
          "mark": {"type": "text", "text": "x", "align": "center", "baseline": "alphabetic", "fontStyle": "italic", "fontSize": 62, "color": "#3a9ad9"},
          "encoding": {
            "x": {"datum": -15.95, "type": "quantitative", "axis": null},
            "y": {"datum": 2.56, "type": "quantitative", "axis": null}
          }
        },
        {
          "data": {"values": [{}]},
          "mark": {"type": "text", "text": "y", "align": "center", "baseline": "alphabetic", "fontStyle": "italic", "fontSize": 62, "color": "#3a9ad9"},
          "encoding": {
            "x": {"datum": -11.53, "type": "quantitative", "axis": null},
            "y": {"datum": 2.56, "type": "quantitative", "axis": null}
          }
        },
        {
          "data": {"values": [{}]},
          "mark": {"type": "rule", "color": "#444444", "strokeWidth": 2.5},
          "encoding": {
            "x": {"datum": -14.9, "type": "quantitative", "axis": null},
            "y": {"datum": 1.17, "type": "quantitative", "axis": null},
            "x2": {"datum": -12.57},
            "y2": {"datum": 6.08}
          }
        }
      ]
    },
    {
      "width": 724,
      "height": 724,
      "resolve": {"axis": {"y": "independent"}},
      "layer": [
        {
          "data": {"values": [{"r": 10}, {"r": 30}, {"r": 50}, {"r": 70}]},
          "mark": {"type": "arc", "theta": 0, "theta2": 6.2832, "filled": false, "stroke": "#cccccc", "strokeWidth": 2},
          "encoding": {
            "x": {"datum": 0, "type": "quantitative", "scale": {"domain": [-85, 85], "nice": false, "zero": false}, "axis": null},
            "y": {"datum": 0, "type": "quantitative", "scale": {"domain": [-85, 85], "nice": false, "zero": false}, "axis": null},
            "radius": {"field": "r", "type": "quantitative", "stack": false, "scale": {"type": "linear", "domain": [0, 85], "range": [0, 362], "zero": true, "nice": false}}
          }
        },
        {
          "data": {"name": "spokes"},
          "transform": [
            {"calculate": "-85*sin(datum.a*PI/180)", "as": "sx"},
            {"calculate": "85*cos(datum.a*PI/180)", "as": "sy"},
            {"calculate": "-datum.sx", "as": "ex"},
            {"calculate": "-datum.sy", "as": "ey"}
          ],
          "mark": {"type": "rule", "color": "#cccccc", "strokeWidth": 2},
          "encoding": {
            "x": {"field": "sx", "type": "quantitative", "axis": null},
            "y": {"field": "sy", "type": "quantitative",
              "axis": {"orient": "left", "offset": 116, "values": [-80, -60, -40, -20, 0, 20, 40, 60, 80],
                "domain": false, "tickSize": -7, "tickWidth": 4, "labels": false, "title": null}},
            "x2": {"field": "ex"},
            "y2": {"field": "ey"}
          }
        },
        {
          "data": {"values": [{"r": 85}]},
          "mark": {"type": "arc", "theta": 0, "theta2": 6.2832, "filled": false, "stroke": "#000", "strokeWidth": 5},
          "encoding": {
            "x": {"datum": 0, "type": "quantitative", "axis": null},
            "y": {"datum": 0, "type": "quantitative", "axis": null},
            "radius": {"field": "r", "type": "quantitative", "stack": false, "scale": {"type": "linear", "domain": [0, 85], "range": [0, 362], "zero": true, "nice": false}}
          }
        },
        {
          "data": {"name": "ticks15"},
          "transform": [
            {"calculate": "-85*sin(datum.a*PI/180)", "as": "tx"},
            {"calculate": "85*cos(datum.a*PI/180)", "as": "ty"},
            {"calculate": "-81.5*sin(datum.a*PI/180)", "as": "tx2"},
            {"calculate": "81.5*cos(datum.a*PI/180)", "as": "ty2"}
          ],
          "mark": {"type": "rule", "color": "#000", "strokeWidth": 5},
          "encoding": {
            "x": {"field": "tx", "type": "quantitative", "axis": null},
            "y": {"field": "ty", "type": "quantitative",
              "axis": {"orient": "left", "offset": 116, "values": [-70, -50, -30, -10, 10, 30, 50, 70],
                "labelExpr": "'−' + format(110 - abs(datum.value), 'd')", "domain": true, "domainWidth": 5,
                "tickSize": -13, "tickWidth": 4, "labelPadding": 61, "title": "双站散射截面（dBsm）", "titlePadding": 30}},
            "x2": {"field": "tx2"},
            "y2": {"field": "ty2"}
          }
        },
        {
          "data": {"values": [{}]},
          "mark": {"type": "rule", "color": "#3a9ad9", "strokeWidth": 5},
          "encoding": {
            "x": {"datum": 0, "type": "quantitative", "axis": null},
            "y": {"datum": 0, "type": "quantitative", "axis": null},
            "y2": {"datum": 62.7}
          }
        },
        {
          "data": {"values": [{}]},
          "mark": {"type": "rule", "color": "#3a9ad9", "strokeWidth": 5},
          "encoding": {
            "x": {"datum": 0, "type": "quantitative", "axis": null},
            "x2": {"datum": -49.3},
            "y": {"datum": 0, "type": "quantitative", "axis": null}
          }
        },
        {
          "data": {"values": [{}]},
          "mark": {"type": "point", "shape": "M0,-1L0.64,1L-0.64,1Z", "size": 2025, "filled": true, "opacity": 1, "color": "#3a9ad9"},
          "encoding": {
            "x": {"datum": 0, "type": "quantitative", "axis": null},
            "y": {"datum": 68.0, "type": "quantitative", "axis": null}
          }
        },
        {
          "data": {"values": [{}]},
          "mark": {"type": "point", "shape": "M-1,0L1,-0.68L1,0.68Z", "size": 1936, "filled": true, "opacity": 1, "color": "#3a9ad9"},
          "encoding": {
            "x": {"datum": -54.5, "type": "quantitative", "axis": null},
            "y": {"datum": 0, "type": "quantitative", "axis": null}
          }
        },
        {
          "data": {"name": "c_data"},
          "transform": [
            {"calculate": "max(datum.v + 110, 0)", "as": "rr"},
            {"calculate": "-datum.rr*sin(datum.a*PI/180)", "as": "px"},
            {"calculate": "datum.rr*cos(datum.a*PI/180)", "as": "py"}
          ],
          "encoding": {
            "x": {"field": "px", "type": "quantitative", "axis": null},
            "y": {"field": "py", "type": "quantitative", "axis": null},
            "color": {"field": "sr", "type": "nominal", "legend": null,
              "scale": {"domain": ["a", "b_tot_xz", "b_th_xz", "b_tot_yz", "b_th_yz", "b_th_yz2", "b_ph_xz", "c_tot_xy", "c_ph_xy", "c_th_xy"],
                "range": ["#6e6e6e", "#000000", "#ff0000", "#00ee00", "#0000ff", "#ff00ff", "#808000", "#000000", "#ff0000", "#00ee00"]}}
          },
          "layer": [
            {"transform": [{"filter": "datum.sr == 'c_tot_xy' && datum.kind == 'm'"}],
              "mark": {"type": "point", "shape": "square", "filled": true, "opacity": 1, "size": 529}},
            {"transform": [{"filter": "datum.sr == 'c_th_xy' && datum.kind == 'l'"}],
              "mark": {"type": "line", "interpolate": "catmull-rom", "strokeWidth": 4},
              "encoding": {"order": {"field": "a", "type": "quantitative"}}},
            {"transform": [{"filter": "datum.sr == 'c_th_xy' && datum.kind == 'm'"}],
              "mark": {"type": "point", "shape": "triangle-up", "filled": true, "opacity": 1, "size": 800}},
            {"transform": [{"filter": "datum.sr == 'c_ph_xy' && datum.kind == 'l'"}],
              "mark": {"type": "line", "interpolate": "catmull-rom", "strokeWidth": 3},
              "encoding": {"order": {"field": "a", "type": "quantitative"}}},
            {"transform": [{"filter": "datum.sr == 'c_ph_xy' && datum.kind == 'm'"}],
              "mark": {"type": "point", "shape": "circle", "filled": true, "opacity": 1, "size": 576}}
          ]
        },
        {
          "data": {"values": [
            {"a": 0, "t": "0°"}, {"a": 30, "t": "30°"}, {"a": 60, "t": "60°"}, {"a": 90, "t": "90°"},
            {"a": 120, "t": "120°"}, {"a": 150, "t": "150°"}, {"a": 180, "t": "180°"}, {"a": 210, "t": "210°"},
            {"a": 240, "t": "240°"}, {"a": 270, "t": "270°"}, {"a": 300, "t": "300°"}, {"a": 330, "t": "330°"}
          ]},
          "encoding": {
            "x": {"field": "lx", "type": "quantitative", "axis": null},
            "y": {"field": "ly", "type": "quantitative", "axis": null},
            "text": {"field": "t"}
          },
          "layer": [
            {"transform": [{"filter": "datum.a % 90 == 0"},
                {"calculate": "-99.8*sin(datum.a*PI/180)", "as": "lx"},
                {"calculate": "99.8*cos(datum.a*PI/180)", "as": "ly"}],
              "mark": {"type": "text", "align": "center", "baseline": "middle", "fontSize": 62}},
            {"transform": [{"filter": "datum.a % 90 != 0"},
                {"calculate": "-104.5*sin(datum.a*PI/180)", "as": "lx"},
                {"calculate": "104.5*cos(datum.a*PI/180)", "as": "ly"}],
              "mark": {"type": "text", "align": "center", "baseline": "middle", "fontSize": 62}}
          ]
        },
        {
          "data": {"values": [{}]},
          "mark": {"type": "text", "text": "x", "align": "center", "baseline": "alphabetic", "fontStyle": "italic", "fontSize": 62, "color": "#3a9ad9"},
          "encoding": {
            "x": {"datum": 11.0, "type": "quantitative", "axis": null},
            "y": {"datum": 65.3, "type": "quantitative", "axis": null}
          }
        },
        {
          "data": {"values": [{}]},
          "mark": {"type": "text", "text": "y", "align": "center", "baseline": "alphabetic", "fontStyle": "italic", "fontSize": 62, "color": "#3a9ad9"},
          "encoding": {
            "x": {"datum": -52.4, "type": "quantitative", "axis": null},
            "y": {"datum": -11.7, "type": "quantitative", "axis": null}
          }
        }
      ]
    },
    {
      "width": 907,
      "height": 250,
      "data": {"values": []},
      "mark": {"type": "point", "opacity": 0},
      "title": {"text": "(a) 共极化后向散射截面", "orient": "bottom", "frame": "group", "anchor": "middle", "offset": 48, "fontSize": 64}
    },
    {
      "width": 892,
      "height": 250,
      "data": {"name": "b_legend"},
      "title": {"text": "(b) 双站散射方向图", "orient": "bottom", "frame": "group", "anchor": "middle", "offset": 48, "dx": -86, "fontSize": 64},
      "encoding": {
        "x": {"field": "c", "type": "quantitative", "scale": {"domain": [0.1919, 1.904], "nice": false, "zero": false}, "axis": null},
        "y": {"field": "r", "type": "quantitative", "scale": {"domain": [0.189, 3.567], "nice": false, "zero": false, "reverse": true}, "axis": null}
      },
      "layer": [
        {"mark": {"type": "rule", "xOffset": -48, "x2Offset": 48, "strokeWidth": 5},
          "encoding": {"x2": {"field": "c"},
            "color": {"field": "s", "type": "nominal", "legend": null,
              "scale": {"domain": ["a", "b_tot_xz", "b_th_xz", "b_tot_yz", "b_th_yz", "b_th_yz2", "b_ph_xz", "c_tot_xy", "c_ph_xy", "c_th_xy"],
                "range": ["#6e6e6e", "#000000", "#ff0000", "#00ee00", "#0000ff", "#ff00ff", "#808000", "#000000", "#ff0000", "#00ee00"]}}}},
        {"mark": {"type": "point", "filled": true, "opacity": 1, "size": 750},
          "encoding": {
            "color": {"field": "s", "type": "nominal", "legend": null,
              "scale": {"domain": ["a", "b_tot_xz", "b_th_xz", "b_tot_yz", "b_th_yz", "b_th_yz2", "b_ph_xz", "c_tot_xy", "c_ph_xy", "c_th_xy"],
                "range": ["#6e6e6e", "#000000", "#ff0000", "#00ee00", "#0000ff", "#ff00ff", "#808000", "#000000", "#ff0000", "#00ee00"]}},
            "shape": {"field": "s", "type": "nominal", "legend": null,
              "scale": {"domain": ["a", "b_tot_xz", "b_th_xz", "b_tot_yz", "b_th_yz", "b_th_yz2", "b_ph_xz", "c_tot_xy", "c_ph_xy", "c_th_xy"],
                "range": ["square", "square", "circle", "triangle-up", "triangle-down", "triangle-left", "triangle-right", "square", "circle", "triangle-up"]}}}},
        {"mark": {"type": "text", "text": "σ", "align": "left", "baseline": "alphabetic", "dx": 66, "dy": 14, "fontStyle": "italic", "fontSize": 62}},
        {"transform": [{"filter": "datum.sub == 'total'"}],
          "mark": {"type": "text", "align": "left", "baseline": "alphabetic", "dx": 101, "dy": 28, "fontSize": 44},
          "encoding": {"text": {"field": "sub"}}},
        {"transform": [{"filter": "datum.sub != 'total'"}],
          "mark": {"type": "text", "align": "left", "baseline": "alphabetic", "dx": 104, "dy": 28, "fontSize": 44, "fontStyle": "italic"},
          "encoding": {"text": {"field": "sub"}}},
        {"transform": [{"filter": "datum.sub == 'total'"}],
          "mark": {"type": "text", "align": "left", "baseline": "alphabetic", "dx": 182, "dy": 14, "fontSize": 62, "fontStyle": "italic"},
          "encoding": {"text": {"field": "pl"}}},
        {"transform": [{"filter": "datum.sub != 'total'"}],
          "mark": {"type": "text", "align": "left", "baseline": "alphabetic", "dx": 130, "dy": 14, "fontSize": 62, "fontStyle": "italic"},
          "encoding": {"text": {"field": "pl"}}},
        {"transform": [{"filter": "datum.sub == 'total'"}],
          "mark": {"type": "text", "text": "-plane", "align": "left", "baseline": "alphabetic", "dx": 268, "dy": 14, "fontSize": 62}},
        {"transform": [{"filter": "datum.sub != 'total'"}],
          "mark": {"type": "text", "text": "-plane", "align": "left", "baseline": "alphabetic", "dx": 216, "dy": 14, "fontSize": 62}}
      ]
    },
    {
      "width": 724,
      "height": 250,
      "data": {"name": "c_legend"},
      "title": {"text": "(c) 双站散射方向图", "orient": "bottom", "frame": "group", "anchor": "middle", "offset": 48, "fontSize": 64},
      "encoding": {
        "x": {"field": "c", "type": "quantitative", "scale": {"domain": [0.1224, 1.6], "nice": false, "zero": false}, "axis": null},
        "y": {"field": "r", "type": "quantitative", "scale": {"domain": [0.418, 3.582], "nice": false, "zero": false, "reverse": true}, "axis": null}
      },
      "layer": [
        {"mark": {"type": "rule", "xOffset": -48, "x2Offset": 48, "strokeWidth": 5},
          "encoding": {"x2": {"field": "c"},
            "color": {"field": "s", "type": "nominal", "legend": null,
              "scale": {"domain": ["a", "b_tot_xz", "b_th_xz", "b_tot_yz", "b_th_yz", "b_th_yz2", "b_ph_xz", "c_tot_xy", "c_ph_xy", "c_th_xy"],
                "range": ["#6e6e6e", "#000000", "#ff0000", "#00ee00", "#0000ff", "#ff00ff", "#808000", "#000000", "#ff0000", "#00ee00"]}}}},
        {"mark": {"type": "point", "filled": true, "opacity": 1, "size": 750},
          "encoding": {
            "color": {"field": "s", "type": "nominal", "legend": null,
              "scale": {"domain": ["a", "b_tot_xz", "b_th_xz", "b_tot_yz", "b_th_yz", "b_th_yz2", "b_ph_xz", "c_tot_xy", "c_ph_xy", "c_th_xy"],
                "range": ["#6e6e6e", "#000000", "#ff0000", "#00ee00", "#0000ff", "#ff00ff", "#808000", "#000000", "#ff0000", "#00ee00"]}},
            "shape": {"field": "s", "type": "nominal", "legend": null,
              "scale": {"domain": ["a", "b_tot_xz", "b_th_xz", "b_tot_yz", "b_th_yz", "b_th_yz2", "b_ph_xz", "c_tot_xy", "c_ph_xy", "c_th_xy"],
                "range": ["square", "square", "circle", "triangle-up", "triangle-down", "triangle-left", "triangle-right", "square", "circle", "triangle-up"]}}}},
        {"mark": {"type": "text", "text": "σ", "align": "left", "baseline": "alphabetic", "dx": 66, "dy": 14, "fontStyle": "italic", "fontSize": 62}},
        {"transform": [{"filter": "datum.sub == 'total'"}],
          "mark": {"type": "text", "align": "left", "baseline": "alphabetic", "dx": 101, "dy": 28, "fontSize": 44},
          "encoding": {"text": {"field": "sub"}}},
        {"transform": [{"filter": "datum.sub != 'total'"}],
          "mark": {"type": "text", "align": "left", "baseline": "alphabetic", "dx": 104, "dy": 28, "fontSize": 44, "fontStyle": "italic"},
          "encoding": {"text": {"field": "sub"}}},
        {"transform": [{"filter": "datum.sub == 'total'"}],
          "mark": {"type": "text", "align": "left", "baseline": "alphabetic", "dx": 182, "dy": 14, "fontSize": 62, "fontStyle": "italic"},
          "encoding": {"text": {"field": "pl"}}},
        {"transform": [{"filter": "datum.sub != 'total'"}],
          "mark": {"type": "text", "align": "left", "baseline": "alphabetic", "dx": 130, "dy": 14, "fontSize": 62, "fontStyle": "italic"},
          "encoding": {"text": {"field": "pl"}}},
        {"transform": [{"filter": "datum.sub == 'total'"}],
          "mark": {"type": "text", "text": "-plane", "align": "left", "baseline": "alphabetic", "dx": 268, "dy": 14, "fontSize": 62}},
        {"transform": [{"filter": "datum.sub != 'total'"}],
          "mark": {"type": "text", "text": "-plane", "align": "left", "baseline": "alphabetic", "dx": 216, "dy": 14, "fontSize": 62}}
      ]
    }
  ]
}
